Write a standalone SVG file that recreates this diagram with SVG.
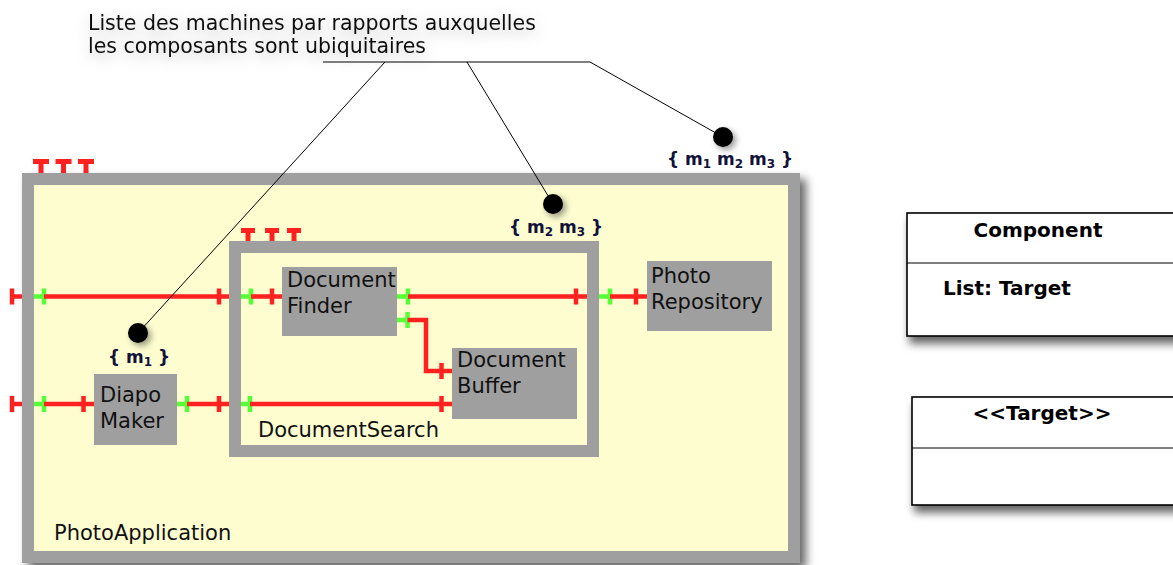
<svg xmlns="http://www.w3.org/2000/svg" width="1173" height="565" viewBox="0 0 1173 565">
<defs>
<style>
.box{fill:#fdfdd0;stroke:#9f9f9f;stroke-width:12}
.comp{fill:#9f9f9f}
.lbl{font-family:"DejaVu Sans",sans-serif;font-size:21px;fill:#111}
.ann{font-family:"DejaVu Sans",sans-serif;font-size:20.5px;fill:#111}
.mach{font-family:"DejaVu Sans",sans-serif;font-weight:bold;font-size:17px;fill:#11113a}
.sub{font-size:12px}
.r{stroke:#ff2020;stroke-width:4.5;fill:none}
.g{stroke:#55ff33;stroke-width:4.5;fill:none}
.tk{stroke-width:5}
.lead{stroke:#000;stroke-width:1;fill:none}
.uml{fill:#fff;stroke:#000;stroke-width:1.6}
.umlt{font-family:"DejaVu Sans",sans-serif;font-weight:bold;font-size:20px;fill:#000}
</style>
<filter id="sh" x="-10%" y="-10%" width="125%" height="130%"><feDropShadow dx="6" dy="6" stdDeviation="5" flood-color="#000" flood-opacity="0.6"/></filter>
<filter id="sh2" x="-10%" y="-20%" width="130%" height="160%"><feDropShadow dx="3" dy="7" stdDeviation="4" flood-color="#000" flood-opacity="0.6"/></filter>
<filter id="glow" x="-10%" y="-60%" width="120%" height="220%"><feDropShadow dx="0" dy="4" stdDeviation="7" flood-color="#000" flood-opacity="0.25"/></filter>
<filter id="dsh" x="-100%" y="-100%" width="300%" height="300%"><feDropShadow dx="3" dy="3" stdDeviation="3" flood-color="#000" flood-opacity="0.4"/></filter>
</defs>

<g id="annotation">
<text class="ann" x="88" y="30" filter="url(#glow)">Liste des machines par rapports auxquelles</text>
<text class="ann" x="88" y="53" filter="url(#glow)">les composants sont ubiquitaires</text>
</g>

<g id="PhotoApplication">
<rect class="box" x="28" y="179" width="766" height="378" filter="url(#sh)"/>
<path class="r tk" d="M33,161.5H49M41,159V173M55.5,161.5H71.5M63.5,159V173M78,161.5H94M86,159V173"/>
<text class="lbl" x="54" y="540">PhotoApplication</text>
</g>

<g id="DocumentSearch">
<rect class="box" x="235" y="247" width="358" height="204"/>
<path class="r tk" d="M241,230.5H255M248,228V241M265,230.5H279M272,228V241M287,230.5H301M294,228V241"/>
<text class="lbl" x="258" y="437">DocumentSearch</text>
</g>

<g id="DocumentFinder">
<rect class="comp" x="282" y="267" width="115" height="69"/>
<text class="lbl" x="287" y="287">Document</text>
<text class="lbl" x="287" y="313">Finder</text>
</g>

<g id="DocumentBuffer">
<rect class="comp" x="452" y="348" width="125" height="71"/>
<text class="lbl" x="457" y="367">Document</text>
<text class="lbl" x="457" y="393">Buffer</text>
</g>

<g id="PhotoRepository">
<rect class="comp" x="647" y="261" width="125" height="70"/>
<text class="lbl" x="651" y="283">Photo</text>
<text class="lbl" x="651" y="309">Repository</text>
</g>

<g id="DiapoMaker">
<rect class="comp" x="94" y="374" width="83" height="71"/>
<text class="lbl" x="100" y="402">Diapo</text>
<text class="lbl" x="100" y="428">Maker</text>
</g>

<g id="connectors">
<path class="r" d="M12,296.5H22M12,288.5V304.5"/>
<path class="g" d="M34,296.5H44M44,288.5V304.5"/>
<path class="r" d="M44,296.5H229M219,288.5V304.5"/>
<path class="g" d="M241,296.5H251M251,288.5V304.5"/>
<path class="r" d="M251,296.5H282M272,288.5V304.5"/>
<path class="g" d="M397,296.5H408M408,288.5V304.5"/>
<path class="r" d="M408,296.5H587M576,288.5V304.5"/>
<path class="g" d="M599,296.5H610M610,288.5V304.5"/>
<path class="r" d="M610,296.5H647M636,288.5V304.5"/>
<path class="r" d="M12,404H22M12,396V412"/>
<path class="g" d="M34,404H44M44,396V412"/>
<path class="r" d="M44,404H94M83.5,396V412"/>
<path class="g" d="M177,404H187M187,396V412"/>
<path class="r" d="M187,404H229M219,396V412"/>
<path class="g" d="M241,404H250M250,396V412"/>
<path class="r" d="M250,404H452M441.5,396V412"/>
<path class="g" d="M397,320H407.5M407.5,312V328"/>
<path class="r" d="M407.5,320H426V371H452M441.5,363V379"/>
<path class="lead" d="M323,62H590L723,137M385,62L138,333M467,62L553,204"/>
</g>

<g id="m1">
<circle cx="138" cy="333" r="10" fill="#000" filter="url(#dsh)"/>
<text class="mach" x="108" y="363">{ m<tspan class="sub" dy="3">1</tspan><tspan dy="-3"> }</tspan></text>
</g>
<g id="m2m3">
<circle cx="553" cy="204" r="10" fill="#000" filter="url(#dsh)"/>
<text class="mach" x="509" y="233">{ m<tspan class="sub" dy="3">2</tspan><tspan dy="-3"> m</tspan><tspan class="sub" dy="3">3</tspan><tspan dy="-3"> }</tspan></text>
</g>
<g id="m1m2m3">
<circle cx="723" cy="137" r="10" fill="#000" filter="url(#dsh)"/>
<text class="mach" x="667" y="165">{ m<tspan class="sub" dy="3">1</tspan><tspan dy="-3">  m</tspan><tspan class="sub" dy="3">2</tspan><tspan dy="-3"> m</tspan><tspan class="sub" dy="3">3</tspan><tspan dy="-3">  }</tspan></text>
</g>

<g id="Component">
<rect class="uml" x="907" y="213" width="300" height="123" filter="url(#sh2)"/>
<path class="lead" stroke-width="1.6" d="M907,263H1173"/>
<text class="umlt" x="1038" y="237" text-anchor="middle">Component</text>
<text class="umlt" x="943" y="295">List: Target</text>
</g>

<g id="Target">
<rect class="uml" x="912" y="397" width="300" height="108" filter="url(#sh2)"/>
<path class="lead" stroke-width="1.6" d="M912,448H1173"/>
<text class="umlt" x="1042" y="420" text-anchor="middle">&lt;&lt;Target&gt;&gt;</text>
</g>
</svg>
